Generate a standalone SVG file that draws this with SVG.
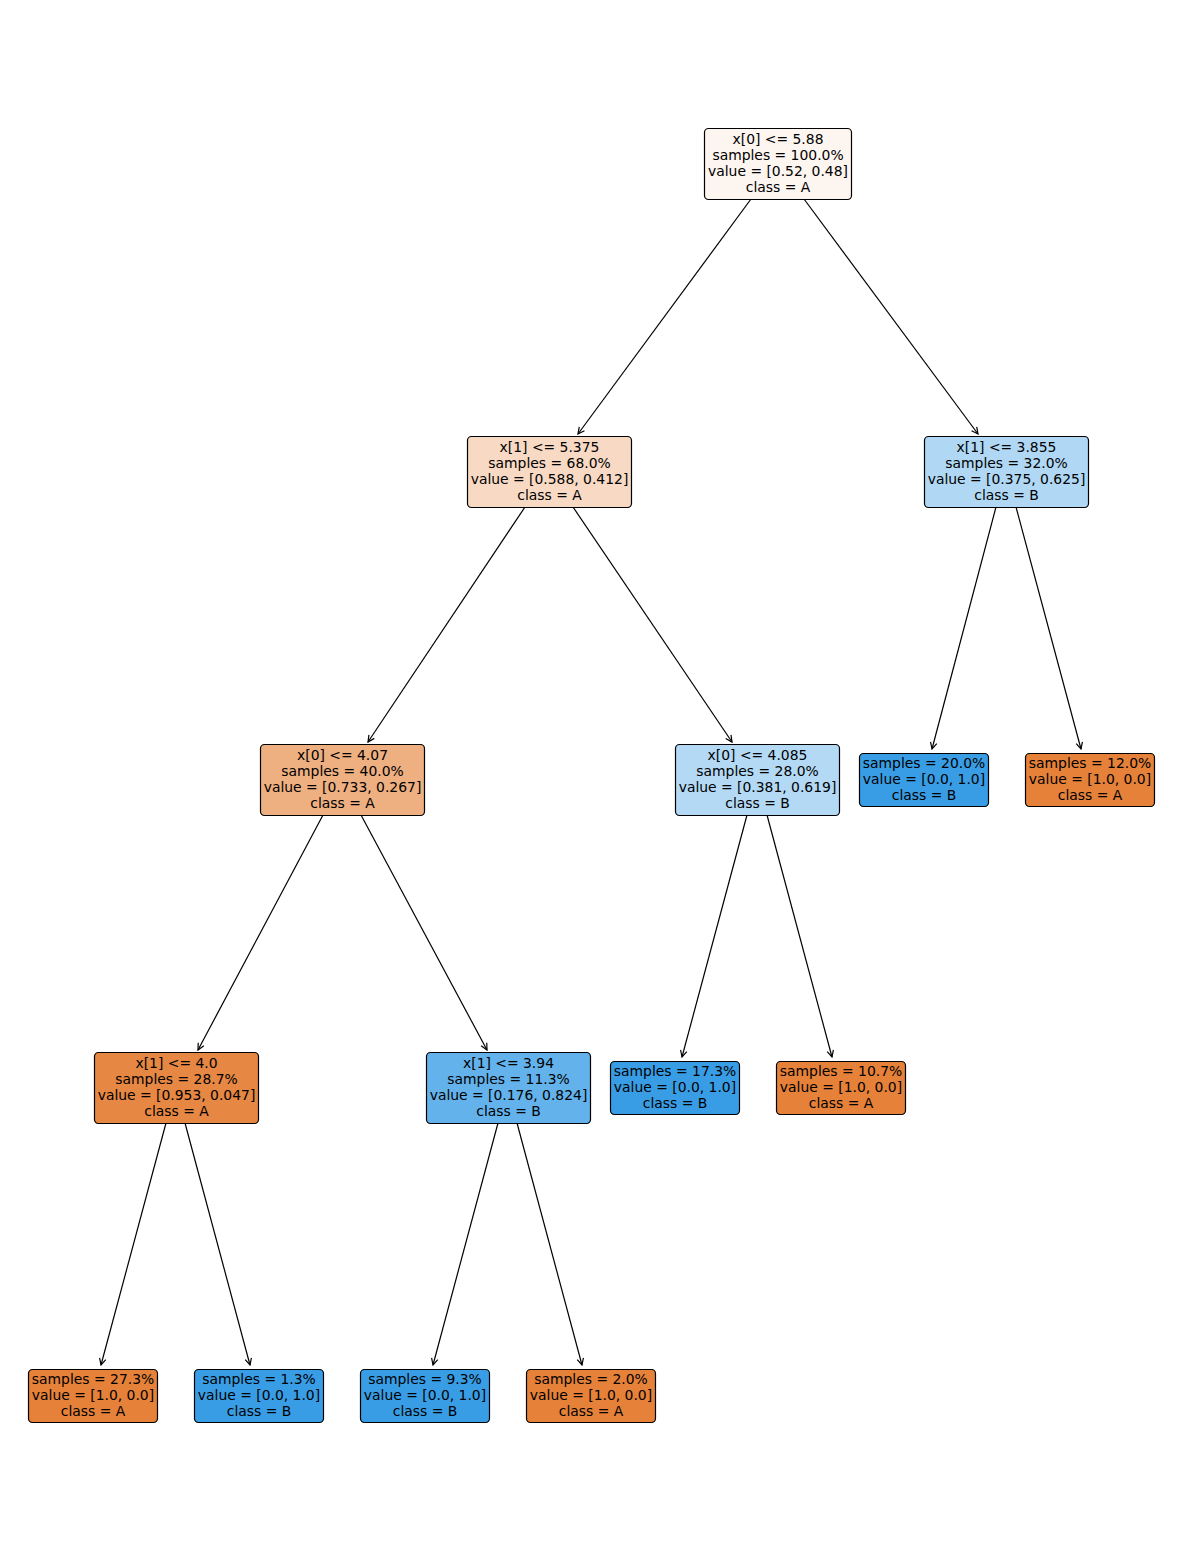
<svg xmlns="http://www.w3.org/2000/svg" width="1182" height="1560" viewBox="0 0 1182 1560">
<style>
.box{stroke:#000;stroke-width:1.2}
text{font-family:"DejaVu Sans",sans-serif;font-size:13.9px;text-anchor:middle;fill:#000}
.edge{stroke:#000;stroke-width:1.2;fill:none;marker-end:url(#arr)}
</style>
<defs>
<marker id="arr" viewBox="0 0 10 10" refX="8.5" refY="5" markerWidth="10" markerHeight="10" markerUnits="userSpaceOnUse" orient="auto">
<path d="M2,1.8 L8.5,5 L2,8.2" fill="none" stroke="#000" stroke-width="1.2"/>
</marker>
</defs>
<rect width="1182" height="1560" fill="#fff"/>
<g id="connectors">
<line class="edge" x1="751" y1="199" x2="578" y2="434"/>
<line class="edge" x1="804" y1="199" x2="978" y2="434"/>
<line class="edge" x1="525" y1="507" x2="368" y2="742"/>
<line class="edge" x1="573" y1="507" x2="732" y2="742"/>
<line class="edge" x1="996" y1="507" x2="932" y2="749"/>
<line class="edge" x1="1016" y1="507" x2="1081" y2="749"/>
<line class="edge" x1="323" y1="815" x2="198" y2="1050"/>
<line class="edge" x1="361" y1="815" x2="487" y2="1050"/>
<line class="edge" x1="747" y1="815" x2="682" y2="1057"/>
<line class="edge" x1="767" y1="815" x2="832" y2="1057"/>
<line class="edge" x1="166" y1="1123" x2="101" y2="1365"/>
<line class="edge" x1="185" y1="1123" x2="250" y2="1365"/>
<line class="edge" x1="498" y1="1123" x2="433" y2="1365"/>
<line class="edge" x1="517" y1="1123" x2="582" y2="1365"/>
</g>
<g id="n0"><rect class="box" x="704.5" y="128.5" width="147" height="71" rx="4" fill="#fdf5f0"/>
<text x="778" y="144">x[0] &lt;= 5.88</text><text x="778" y="160">samples = 100.0%</text><text x="778" y="176">value = [0.52, 0.48]</text><text x="778" y="192">class = A</text></g>
<g id="n1"><rect class="box" x="467.5" y="436.5" width="164" height="71" rx="4" fill="#f7d9c4"/>
<text x="549.5" y="452">x[1] &lt;= 5.375</text><text x="549.5" y="468">samples = 68.0%</text><text x="549.5" y="484">value = [0.588, 0.412]</text><text x="549.5" y="500">class = A</text></g>
<g id="n2"><rect class="box" x="924.5" y="436.5" width="164" height="71" rx="4" fill="#b0d8f5"/>
<text x="1006.5" y="452">x[1] &lt;= 3.855</text><text x="1006.5" y="468">samples = 32.0%</text><text x="1006.5" y="484">value = [0.375, 0.625]</text><text x="1006.5" y="500">class = B</text></g>
<g id="n3"><rect class="box" x="260.5" y="744.5" width="164" height="71" rx="4" fill="#eeaf81"/>
<text x="342.5" y="760">x[0] &lt;= 4.07</text><text x="342.5" y="776">samples = 40.0%</text><text x="342.5" y="792">value = [0.733, 0.267]</text><text x="342.5" y="808">class = A</text></g>
<g id="n4"><rect class="box" x="675.5" y="744.5" width="164" height="71" rx="4" fill="#b3d9f5"/>
<text x="757.5" y="760">x[0] &lt;= 4.085</text><text x="757.5" y="776">samples = 28.0%</text><text x="757.5" y="792">value = [0.381, 0.619]</text><text x="757.5" y="808">class = B</text></g>
<g id="l20"><rect class="box" x="859.5" y="753.5" width="129" height="53" rx="4" fill="#399de5"/>
<text x="924" y="768">samples = 20.0%</text><text x="924" y="784">value = [0.0, 1.0]</text><text x="924" y="800">class = B</text></g>
<g id="l12"><rect class="box" x="1025.5" y="753.5" width="129" height="53" rx="4" fill="#e58139"/>
<text x="1090" y="768">samples = 12.0%</text><text x="1090" y="784">value = [1.0, 0.0]</text><text x="1090" y="800">class = A</text></g>
<g id="n5"><rect class="box" x="94.5" y="1052.5" width="164" height="71" rx="4" fill="#e68743"/>
<text x="176.5" y="1068">x[1] &lt;= 4.0</text><text x="176.5" y="1084">samples = 28.7%</text><text x="176.5" y="1100">value = [0.953, 0.047]</text><text x="176.5" y="1116">class = A</text></g>
<g id="n6"><rect class="box" x="426.5" y="1052.5" width="164" height="71" rx="4" fill="#63b2eb"/>
<text x="508.5" y="1068">x[1] &lt;= 3.94</text><text x="508.5" y="1084">samples = 11.3%</text><text x="508.5" y="1100">value = [0.176, 0.824]</text><text x="508.5" y="1116">class = B</text></g>
<g id="l173"><rect class="box" x="610.5" y="1061.5" width="129" height="53" rx="4" fill="#399de5"/>
<text x="675" y="1076">samples = 17.3%</text><text x="675" y="1092">value = [0.0, 1.0]</text><text x="675" y="1108">class = B</text></g>
<g id="l107"><rect class="box" x="776.5" y="1061.5" width="129" height="53" rx="4" fill="#e58139"/>
<text x="841" y="1076">samples = 10.7%</text><text x="841" y="1092">value = [1.0, 0.0]</text><text x="841" y="1108">class = A</text></g>
<g id="l273"><rect class="box" x="28.5" y="1369.5" width="129" height="53" rx="4" fill="#e58139"/>
<text x="93" y="1384">samples = 27.3%</text><text x="93" y="1400">value = [1.0, 0.0]</text><text x="93" y="1416">class = A</text></g>
<g id="l13"><rect class="box" x="194.5" y="1369.5" width="129" height="53" rx="4" fill="#399de5"/>
<text x="259" y="1384">samples = 1.3%</text><text x="259" y="1400">value = [0.0, 1.0]</text><text x="259" y="1416">class = B</text></g>
<g id="l93"><rect class="box" x="360.5" y="1369.5" width="129" height="53" rx="4" fill="#399de5"/>
<text x="425" y="1384">samples = 9.3%</text><text x="425" y="1400">value = [0.0, 1.0]</text><text x="425" y="1416">class = B</text></g>
<g id="l20b"><rect class="box" x="526.5" y="1369.5" width="129" height="53" rx="4" fill="#e58139"/>
<text x="591" y="1384">samples = 2.0%</text><text x="591" y="1400">value = [1.0, 0.0]</text><text x="591" y="1416">class = A</text></g>
</svg>
